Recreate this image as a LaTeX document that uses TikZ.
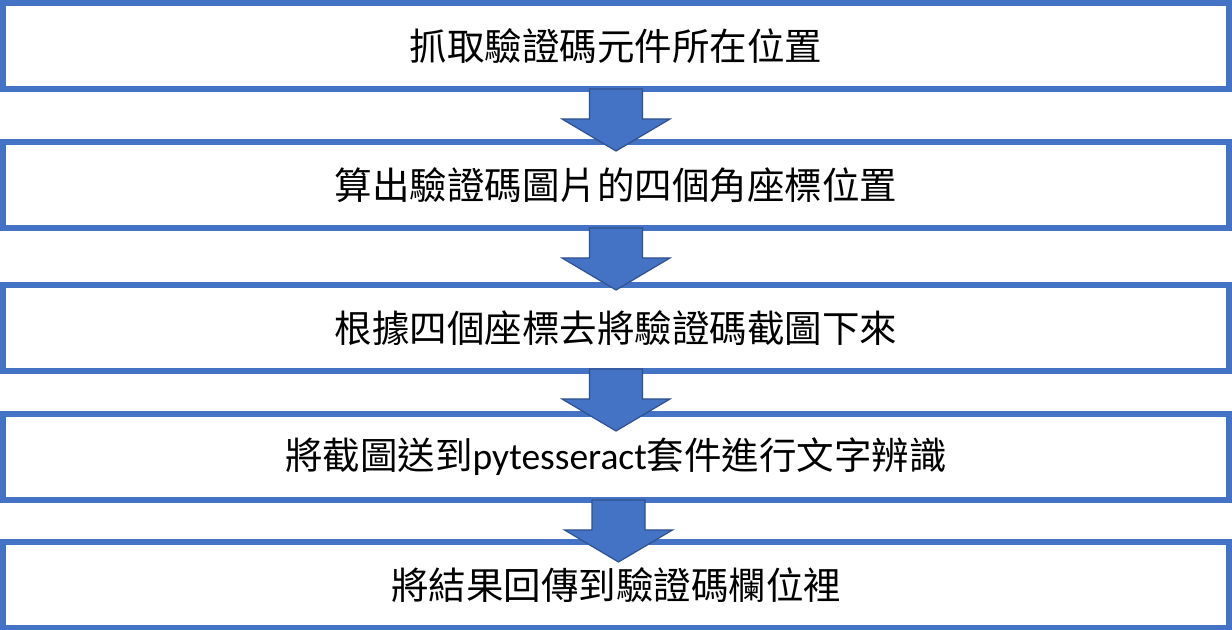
\documentclass[tikz,border=0pt]{standalone}
\usepackage{fontspec}
\setmainfont{Noto Sans CJK TC}
\newfontfamily\latinfont{Carlito}
\usepackage{tikz}
\usetikzlibrary{positioning}
\definecolor{boxblue}{HTML}{4472C4}
\definecolor{edgeblue}{HTML}{2F528F}

\begin{document}
\begin{tikzpicture}[
  x=0.5pt,y=-0.5pt,
  stage/.style={draw=boxblue,line width=3pt,outer sep=0pt,inner sep=0pt,
    minimum width=613pt,minimum height=43pt,text=black,
    font=\fontsize{18.75}{22}\selectfont},
  downarrow/.pic={
    \filldraw[fill=boxblue,draw=edgeblue,line width=0.6pt]
      (-26.5,0) -- (26.5,0) -- (26.5,30) -- (54,30) -- (0,62)
      -- (-54,30) -- (-26.5,30) -- cycle;
  }]
  \useasboundingbox (0,0) rectangle (1232,630);

  \node [stage] (grab) at (616,46) {抓取驗證碼元件所在位置};
  \node [stage, below=26.5pt of grab] (corners) {算出驗證碼圖片的四個角座標位置};
  \node [stage, below=28.5pt of corners] (crop) {根據四個座標去將驗證碼截圖下來};
  \node [stage, below=21.5pt of crop] (ocr)
    {將截圖送到{\latinfont pytesseract}套件進行文字辨識};
  \node [stage, below=21pt of ocr] (fill) {將結果回傳到驗證碼欄位裡};

  % arrows between the steps
  \pic at (grab.south) {downarrow};
  \pic at (corners.south) {downarrow};
  \pic at ([yshift=1pt]crop.south) {downarrow};
  \pic at ([xshift=1.25pt]ocr.south) {downarrow};

\end{tikzpicture}
\end{document}
